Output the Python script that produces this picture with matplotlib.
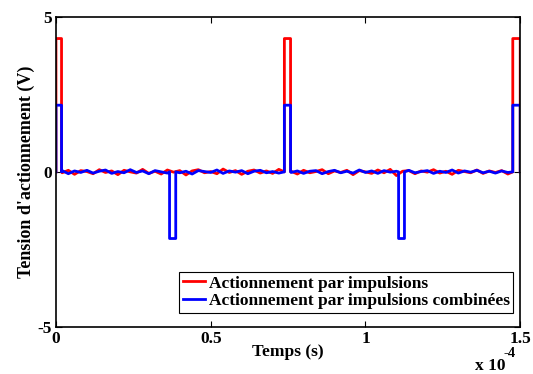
import matplotlib
matplotlib.use('Agg')
import matplotlib.pyplot as plt
import numpy as np

plt.rcParams['font.family'] = ['Liberation Serif', 'DejaVu Serif']
plt.rcParams['font.weight'] = 'bold'
plt.rcParams['axes.labelweight'] = 'bold'
plt.rcParams['font.size'] = 12.5
plt.rcParams['axes.unicode_minus'] = False

# temps en unités de 1e-4 s
# impulsions : (début, fin, niveau)
pulses_red = [(0.0, 0.018, 4.3), (0.738, 0.758, 4.3), (1.476, 1.5, 4.3)]
pulses_blue = [(0.0, 0.018, 2.15), (0.367, 0.387, -2.15), (0.738, 0.758, 2.15),
               (1.107, 1.126, -2.15), (1.476, 1.5, 2.15)]

# bruit de la ligne de base
noise_red = [0.02, -0.03, 0.05, -0.08, 0.04, 0.01, -0.06, 0.07, -0.02, 0.03,
             -0.09, 0.05, 0.00, -0.04, 0.08, -0.05, 0.02, -0.07, 0.06, -0.01,
             0.04, -0.10, 0.03, 0.07, -0.03, 0.01, -0.06, 0.09, -0.02, 0.04,
             -0.08, 0.02, 0.06, -0.04, 0.03, -0.05, 0.08, -0.01, 0.02, -0.07,
             0.05, -0.03, 0.01, 0.07, -0.06, 0.03, -0.02, 0.05, -0.09, 0.04,
             0.00, -0.05, 0.06, -0.03, 0.08, -0.12, 0.02, 0.04, -0.06, 0.03,
             -0.01, 0.07, -0.04, 0.02, -0.08, 0.05, 0.01, -0.03, 0.06, -0.05,
             0.03, -0.02, 0.04, -0.07, 0.02, 0.00]
noise_blue = [-0.01, 0.04, -0.06, 0.03, -0.02, 0.05, -0.04, 0.02, 0.06, -0.05,
              0.01, -0.03, 0.07, -0.02, 0.03, -0.06, 0.04, 0.00, -0.04, 0.05,
              -0.03, 0.02, -0.07, 0.04, 0.01, -0.02, 0.06, -0.05, 0.03, -0.01,
              0.04, -0.06, 0.02, 0.05, -0.03, 0.01, -0.04, 0.06, -0.02, 0.03,
              -0.05, 0.02, 0.04, -0.06, 0.01, 0.05, -0.03, 0.02, -0.04, 0.06,
              -0.02, 0.03, -0.05, 0.04, -0.01, 0.02, -0.06, 0.05, -0.03, 0.01,
              0.04, -0.05, 0.02, -0.02, 0.06, -0.04, 0.03, -0.01, 0.05, -0.03,
              0.02, -0.04, 0.03, -0.02, 0.01, 0.02]


def build(noise, pulses):
    t_base = np.linspace(0, 1.5, len(noise))
    pts = [(t, v, 1) for t, v in zip(t_base, noise)
           if not any(s <= t <= e for s, e, _ in pulses)]
    for s, e, lvl in pulses:
        pts += [(s, 0.0, 0), (s, lvl, 1), (e, lvl, 2), (e, 0.0, 3)]
    pts.sort(key=lambda p: (p[0], p[2]))
    t = np.array([p[0] for p in pts]) * 1e-4
    v = np.array([p[1] for p in pts])
    return t, v


t_r, v_r = build(noise_red, pulses_red)
t_b, v_b = build(noise_blue, pulses_blue)

fig = plt.figure(figsize=(5.33, 3.74), dpi=100)
ax = fig.add_axes([0.105, 0.126, 0.871, 0.829])

ax.plot(t_r, v_r, color='red', lw=2, label='Actionnement par impulsions')
ax.plot(t_b, v_b, color='blue', lw=2, label='Actionnement par impulsions combinées')

ax.set_xlim(0, 1.5e-4)
ax.set_ylim(-5, 5)
ax.set_xticks([0, 0.5e-4, 1e-4, 1.5e-4])
ax.set_xticklabels(['0', '0.5', '1', '1.5'])
ax.set_yticks([-5, 0, 5])
ax.tick_params(direction='in', top=True, right=True, length=4, width=0.8, pad=3)
for sp in ax.spines.values():
    sp.set_linewidth(1.2)

ax.set_xlabel('Temps (s)', labelpad=-2)
ax.set_ylabel("Tension d'actionnement (V)", labelpad=2, fontsize=13)
fig.text(0.891, 0.012, 'x 10', fontsize=12.5, fontweight='bold')
fig.text(0.944, 0.045, '-4', fontsize=10.5, fontweight='bold')

leg = ax.legend(loc='lower right', bbox_to_anchor=(0.985, 0.045),
                fancybox=False, edgecolor='black',
                framealpha=1, handlelength=1.3, handletextpad=0.2,
                borderpad=0.2, labelspacing=0.1, borderaxespad=0)
leg.get_frame().set_linewidth(0.8)

plt.savefig('out.png', dpi=100)
